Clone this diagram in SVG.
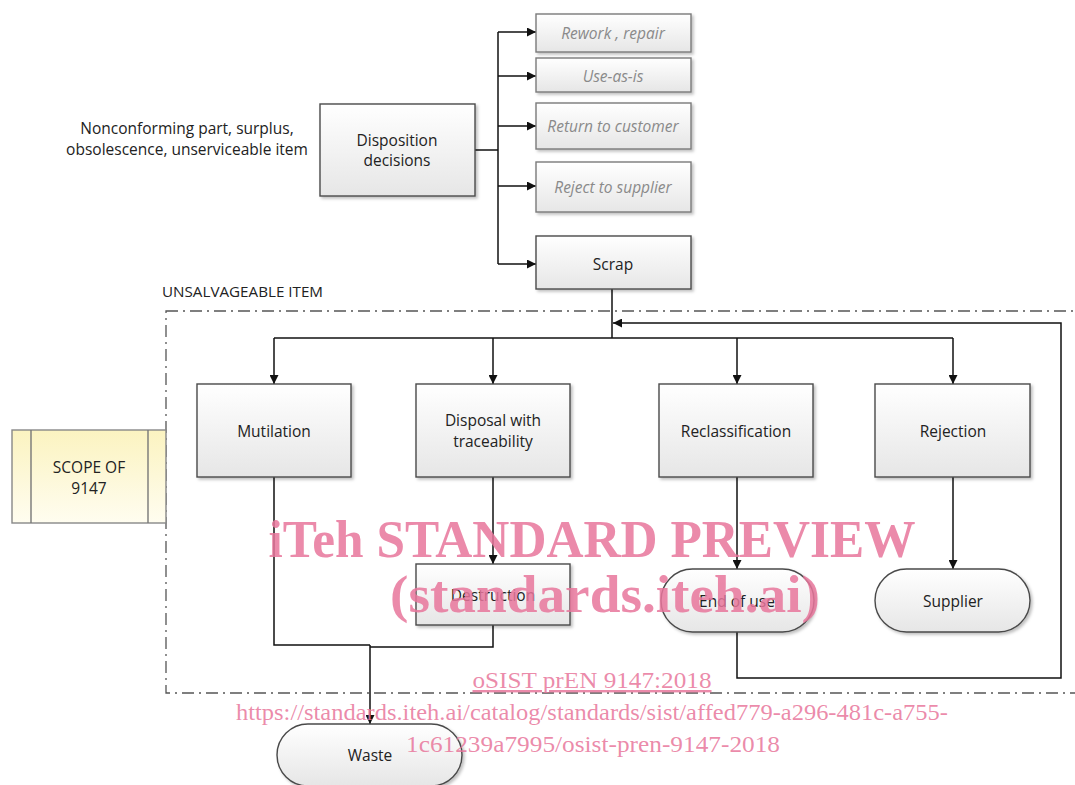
<svg xmlns="http://www.w3.org/2000/svg" width="1075" height="785" viewBox="0 0 1075 785">
<defs>
<linearGradient id="g" x1="0" y1="0" x2="0" y2="1"><stop offset="0" stop-color="#ffffff"/><stop offset="1" stop-color="#e6e6e6"/></linearGradient>
<linearGradient id="y" x1="0" y1="0" x2="0" y2="1"><stop offset="0" stop-color="#fbf3c0"/><stop offset="1" stop-color="#fffdf0"/></linearGradient>
<filter id="sh" x="-10%" y="-10%" width="125%" height="130%"><feDropShadow dx="2" dy="2" stdDeviation="1.5" flood-color="#000" flood-opacity="0.25"/></filter>
<marker id="ar" viewBox="0 0 10 10" refX="10" refY="5" markerWidth="9" markerHeight="9" markerUnits="userSpaceOnUse" orient="auto"><path d="M0,0 L10,5 L0,10 z" fill="#111"/></marker>
<style>
.box{fill:url(#g);stroke:#4a4a4a;stroke-width:1.4;filter:url(#sh)}
.opt{fill:url(#g);stroke:#7a7a7a;stroke-width:1.4;filter:url(#sh)}
.t{font-family:"Open Sans","Liberation Sans",sans-serif;font-size:15.5px;fill:#222;text-anchor:middle;dominant-baseline:central}
.ti{font-family:"Open Sans","Liberation Sans",sans-serif;font-size:15.5px;fill:#8a8a8a;font-style:italic;text-anchor:middle;dominant-baseline:central}
.c{fill:none;stroke:#111;stroke-width:1.5}
.wm{font-family:"Liberation Serif","Times New Roman",serif;fill:#e8769b;fill-opacity:0.85;text-anchor:middle}
</style>
</defs>
<rect width="1075" height="785" fill="#fff"/>

<text class="t" x="187" y="128">Nonconforming part, surplus,</text>
<text class="t" x="187" y="149">obsolescence, unserviceable item</text>

<text x="162" y="297" font-family="'Open Sans','Liberation Sans',sans-serif" font-size="15" fill="#222" textLength="161" lengthAdjust="spacingAndGlyphs">UNSALVAGEABLE ITEM</text>
<rect x="166" y="311" width="915" height="382" fill="none" stroke="#555" stroke-width="1.3" stroke-dasharray="12,5,2,5"/>

<g id="scope">
<rect x="12" y="430" width="154" height="93" fill="url(#y)" stroke="#888" stroke-width="1.4"/>
<line x1="31" y1="430" x2="31" y2="523" stroke="#777" stroke-width="1.4"/>
<line x1="148" y1="430" x2="148" y2="523" stroke="#777" stroke-width="1.4"/>
<text class="t" x="89" y="467">SCOPE OF</text>
<text class="t" x="89" y="488">9147</text>
</g>

<g id="connectors">
<path class="c" d="M475,150 H498" stroke-width="2.5"/>
<path class="c" d="M498,32 V264"/>
<path class="c" d="M498,32 H536" marker-end="url(#ar)"/>
<path class="c" d="M498,76 H536" marker-end="url(#ar)"/>
<path class="c" d="M498,126 H536" marker-end="url(#ar)"/>
<path class="c" d="M498,186 H536" marker-end="url(#ar)"/>
<path class="c" d="M498,264 H536" marker-end="url(#ar)"/>
<path class="c" d="M612,289 V338"/>
<path class="c" d="M274,338 H953"/>
<path class="c" d="M274,338 V384" marker-end="url(#ar)"/>
<path class="c" d="M493,338 V384" marker-end="url(#ar)"/>
<path class="c" d="M737,338 V384" marker-end="url(#ar)"/>
<path class="c" d="M953,338 V384" marker-end="url(#ar)"/>
<path class="c" d="M493,477 V564" marker-end="url(#ar)"/>
<path class="c" d="M737,477 V569" marker-end="url(#ar)"/>
<path class="c" d="M953,477 V569" marker-end="url(#ar)"/>
<path class="c" d="M274,477 V645 H370"/>
<path class="c" d="M493,625 V647 H370"/>
<path class="c" d="M370,645 V724" marker-end="url(#ar)"/>
<path class="c" d="M737,632 V678 H1061 V323 H613" marker-end="url(#ar)"/>
</g>

<g id="disposition"><rect class="box" x="320" y="104" width="155" height="92"/><text class="t" x="397" y="140">Disposition</text><text class="t" x="397" y="160">decisions</text></g>
<g id="rework"><rect class="opt" x="536" y="14" width="155" height="38"/><text class="ti" x="613" y="33">Rework , repair</text></g>
<g id="useasis"><rect class="opt" x="536" y="58" width="155" height="34"/><text class="ti" x="613" y="76">Use-as-is</text></g>
<g id="return"><rect class="opt" x="536" y="103" width="155" height="46"/><text class="ti" x="613" y="126">Return to customer</text></g>
<g id="reject"><rect class="opt" x="536" y="162" width="155" height="50"/><text class="ti" x="613" y="187">Reject to supplier</text></g>
<g id="scrap"><rect class="box" x="536" y="236" width="155" height="53"/><text class="t" x="613" y="264">Scrap</text></g>

<g id="mutilation"><rect class="box" x="197" y="384" width="154" height="93"/><text class="t" x="274" y="431">Mutilation</text></g>
<g id="disposal"><rect class="box" x="416" y="384" width="154" height="93"/><text class="t" x="493" y="420">Disposal with</text><text class="t" x="493" y="441">traceability</text></g>
<g id="reclass"><rect class="box" x="659" y="384" width="154" height="93"/><text class="t" x="736" y="431">Reclassification</text></g>
<g id="rejection"><rect class="box" x="875" y="384" width="155" height="93"/><text class="t" x="953" y="431">Rejection</text></g>
<g id="destruction"><rect class="box" x="416" y="564" width="154" height="61"/><text class="t" x="493" y="595">Destruction</text></g>
<g id="endofuse"><rect class="box" x="661" y="569" width="153" height="63" rx="31.5"/><text class="t" x="737" y="601">End of use</text></g>
<g id="supplier"><rect class="box" x="875" y="569" width="155" height="63" rx="31.5"/><text class="t" x="953" y="601">Supplier</text></g>
<g id="waste"><rect class="box" x="277" y="724" width="185" height="62" rx="31"/><text class="t" x="370" y="755">Waste</text></g>

<g id="watermark">
<text class="wm" x="592" y="557" font-size="52" font-weight="bold" textLength="647" lengthAdjust="spacingAndGlyphs">iTeh STANDARD PREVIEW</text>
<text class="wm" x="605" y="612" font-size="52" font-weight="bold" textLength="430" lengthAdjust="spacingAndGlyphs">(standards.iteh.ai)</text>
<text class="wm" x="592" y="688" font-size="24" text-decoration="underline" textLength="239" lengthAdjust="spacingAndGlyphs">oSIST prEN 9147:2018</text>
<text class="wm" x="592" y="720" font-size="24" textLength="712" lengthAdjust="spacingAndGlyphs">https://standards.iteh.ai/catalog/standards/sist/affed779-a296-481c-a755-</text>
<text class="wm" x="593" y="752" font-size="24" textLength="374" lengthAdjust="spacingAndGlyphs">1c61239a7995/osist-pren-9147-2018</text>
</g>
</svg>
